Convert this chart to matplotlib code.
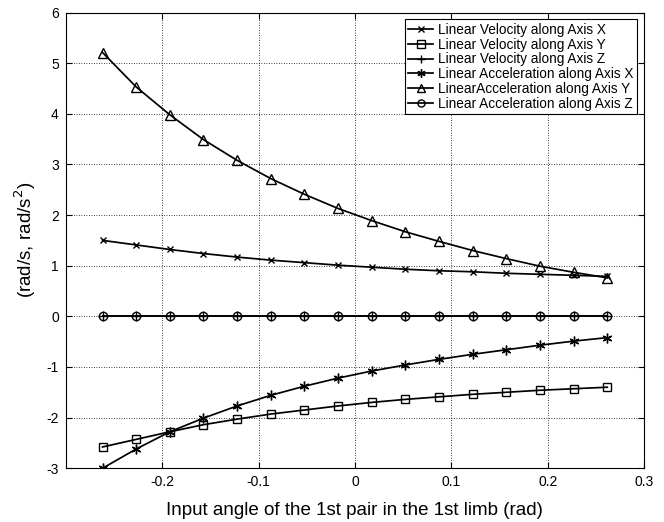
import numpy as np
import matplotlib
matplotlib.use("Agg")
from matplotlib import pyplot as plt

plt.rcParams['font.family'] = ['Liberation Sans', 'DejaVu Sans']
plt.rcParams['axes.unicode_minus'] = False

# input angle: -15 deg .. 15 deg in 2 deg steps
angle_deg = [-15, -13, -11, -9, -7, -5, -3, -1, 1, 3, 5, 7, 9, 11, 13, 15]

vel_x = [1.50, 1.41, 1.32, 1.24, 1.17, 1.11, 1.06, 1.01,
         0.97, 0.93, 0.90, 0.88, 0.85, 0.83, 0.81, 0.79]
vel_y = [-2.58, -2.43, -2.28, -2.14, -2.03, -1.93, -1.85, -1.77,
         -1.70, -1.64, -1.59, -1.54, -1.50, -1.46, -1.43, -1.40]
vel_z = [0.0] * 16
acc_x = [-3.00, -2.62, -2.28, -2.01, -1.77, -1.56, -1.38, -1.22,
         -1.08, -0.96, -0.85, -0.75, -0.66, -0.57, -0.49, -0.42]
acc_y = [5.21, 4.53, 3.98, 3.49, 3.08, 2.72, 2.41, 2.13,
         1.89, 1.67, 1.48, 1.30, 1.14, 0.99, 0.87, 0.76]
acc_z = [0.0] * 16

labels = ['Linear Velocity along Axis X', 'Linear Velocity along Axis Y',
          'Linear Velocity along Axis Z', 'Linear Acceleration along Axis X',
          'LinearAcceleration along Axis Y', 'Linear Acceleration along Axis Z']

x = np.radians(angle_deg)

fig = plt.figure(figsize=(6.64, 5.22), dpi=100)
ax = fig.add_axes([0.099, 0.103, 0.871, 0.873])

kw = dict(color='black', lw=1.25, mfc='none', mec='black', mew=1.0)
ax.plot(x, vel_x, marker='x', ms=5, label=labels[0], **kw)
ax.plot(x, vel_y, marker='s', ms=6, label=labels[1], **kw)
ax.plot(x, vel_z, marker='+', ms=7, label=labels[2], **kw)
ax.plot(x, acc_x, marker=(6, 2, 0), ms=7, label=labels[3], **kw)
ax.plot(x, acc_y, marker='^', ms=7, label=labels[4], **kw)
ax.plot(x, acc_z, marker='o', ms=6, label=labels[5], **kw)

ax.set_xlim(-0.3, 0.3)
ax.set_ylim(-3, 6)
ax.set_xticks([-0.2, -0.1, 0, 0.1, 0.2, 0.3])
ax.set_xticklabels(['-0.2', '-0.1', '0', '0.1', '0.2', '0.3'])
ax.set_yticks(range(-3, 7))
ax.tick_params(direction='in', labelsize=10, length=4, top=True, right=True,
               pad=5)
ax.grid(True, linestyle=(0, (1, 2)), color='black', lw=0.6)
for s in ax.spines.values():
    s.set_linewidth(0.8)

ax.set_xlabel('Input angle of the 1st pair in the 1st limb (rad)', fontsize=13.5,
              labelpad=9)
ax.set_ylabel('(rad/s, rad/s$^2$)', fontsize=13.5, labelpad=6)

leg = ax.legend(loc='upper right', fontsize=9.8, frameon=True, fancybox=False,
                edgecolor='black', framealpha=1, borderpad=0.25, labelspacing=0.06,
                handlelength=1.8, handletextpad=0.4, borderaxespad=0.5,
                markerscale=0.85)
leg.get_frame().set_linewidth(0.8)

fig.savefig('out.png', dpi=100)
